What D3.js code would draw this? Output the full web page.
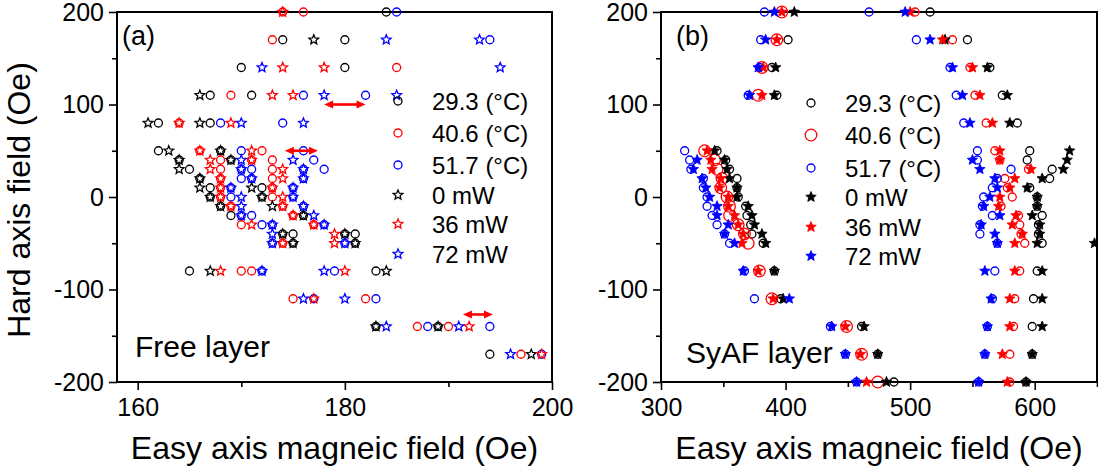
<!DOCTYPE html>
<html><head><meta charset="utf-8">
<script src="https://cdn.jsdelivr.net/npm/d3@7"></script>
<style>
body{margin:0;background:#fff}
svg{display:block}
text{font-family:Arial,"Liberation Sans",sans-serif;fill:#000}
</style>
</head><body>
<svg id="c" width="1098" height="473"></svg>
<script>
// ---------- data: [easy axis field (Oe), hard axis field (Oe)] ----------
// Panel (a) Free layer
const freeT293 = [[184,200],[174,170],[180,170],[170,140],[180,140],[167,110],[171,110],[162,80],[167,80],[162,50],[168,50],[164,40],[169,40],[165,30],[166,20],[167,10],[172,10],[167,0],[172,0],[168,-10],[169,-20],[176,-20],[174,-40],[175,-40],[180,-40],[181,-40],[175,-50],[181,-50],[165,-80],[183,-80],[183,-140],[189,-140],[194,-170]];
const freeT406 = [[174,200],[176,200],[173,170],[185,140],[169,110],[164,80],[166,50],[172,50],[168,40],[171,40],[173,40],[168,30],[173,30],[168,20],[173,20],[168,10],[173,10],[168,0],[173,0],[169,-10],[174,-10],[175,-20],[170,-30],[177,-30],[174,-50],[170,-80],[171,-80],[175,-110],[182,-110],[187,-140],[190,-140],[197,-170]];
const freeT517 = [[185,200],[194,170],[176,110],[182,110],[168,80],[174,80],[170,50],[176,50],[177,40],[170,30],[171,30],[176,30],[178,30],[170,20],[171,20],[176,20],[169,10],[175,10],[169,0],[175,0],[176,-10],[170,-20],[171,-20],[172,-30],[173,-30],[178,-30],[173,-50],[180,-50],[172,-80],[179,-80],[177,-110],[183,-110],[188,-140],[194,-140],[199,-170]];
const freeP0   = [[177,170],[166,110],[161,80],[166,80],[163,50],[168,50],[164,40],[169,40],[164,30],[166,20],[166,10],[171,10],[167,0],[172,0],[168,-10],[173,-10],[176,-20],[174,-40],[180,-40],[175,-50],[181,-50],[167,-80],[184,-80],[183,-140],[189,-140],[198,-170]];
const freeP36  = [[174,200],[174,140],[178,140],[173,110],[175,110],[164,80],[169,80],[166,50],[171,50],[167,40],[171,40],[167,30],[174,30],[168,20],[174,20],[168,10],[173,10],[168,0],[174,0],[169,-10],[174,-10],[175,-20],[171,-30],[177,-30],[179,-40],[174,-50],[179,-50],[168,-80],[180,-80],[177,-110],[192,-140],[199,-170]];
const freeP72  = [[184,170],[193,170],[172,140],[195,140],[178,110],[185,110],[170,80],[176,80],[170,40],[175,40],[170,30],[176,30],[171,20],[176,20],[169,10],[175,10],[170,0],[175,0],[170,-10],[176,-10],[170,-20],[177,-20],[173,-30],[178,-30],[173,-40],[173,-50],[180,-50],[172,-80],[178,-80],[176,-110],[180,-110],[184,-140],[191,-140],[196,-170]];
// Panel (b) SyAF layer
const syafT293 = [[516,200],[402,170],[546,170],[389,140],[564,140],[393,110],[574,110],[586,80],[345,50],[596,50],[352,40],[594,40],[355,30],[614,30],[361,20],[612,20],[361,10],[596,10],[362,0],[602,0],[368,-10],[602,-10],[369,-20],[606,-20],[372,-30],[603,-30],[373,-40],[603,-40],[382,-50],[606,-50],[391,-80],[602,-80],[396,-110],[599,-110],[461,-140],[598,-140],[474,-170],[598,-170],[487,-200],[593,-200]];
const syafT406L = [[397,200],[393,170],[381,140],[378,110],[335,50],[343,40],[345,30],[349,20],[348,10],[353,0],[355,-10],[355,-20],[362,-30],[367,-40],[370,-50],[379,-80],[389,-110],[449,-140],[461,-170],[474,-200]];
const syafT406R = [[504,200],[534,170],[548,140],[552,110],[561,80],[568,50],[572,40],[595,30],[576,20],[578,10],[582,0],[573,-10],[587,-20],[588,-30],[589,-40],[592,-50],[588,-80],[584,-110],[583,-140],[580,-170],[580,-200]];
const syafT517 = [[383,200],[467,200],[380,170],[505,170],[379,140],[532,140],[370,110],[537,110],[543,80],[319,50],[554,50],[323,40],[554,40],[324,30],[581,30],[334,20],[570,20],[334,10],[566,10],[337,0],[559,0],[337,-10],[558,-10],[341,-20],[566,-20],[345,-30],[556,-30],[351,-40],[556,-40],[355,-50],[570,-50],[367,-80],[568,-80],[375,-110],[566,-110],[436,-140],[562,-140],[448,-170],[560,-170],[457,-200],[555,-200]];
const syafP0   = [[407,200],[528,170],[392,140],[562,140],[391,110],[578,110],[580,80],[343,50],[628,50],[351,40],[626,40],[353,30],[623,30],[355,20],[606,20],[361,10],[594,10],[361,0],[602,0],[370,-10],[602,-10],[373,-20],[598,-20],[375,-30],[604,-30],[381,-40],[604,-40],[384,-50],[602,-50],[648,-50],[391,-80],[606,-80],[398,-110],[606,-110],[463,-140],[606,-140],[474,-170],[598,-170],[481,-200],[593,-200]];
const syafP36  = [[397,200],[500,200],[393,170],[526,170],[382,140],[550,140],[381,110],[556,110],[566,80],[337,50],[572,50],[340,40],[572,40],[341,30],[597,30],[348,20],[584,20],[347,10],[580,10],[354,0],[572,0],[354,-10],[571,-10],[359,-20],[585,-20],[362,-30],[582,-30],[366,-40],[590,-40],[365,-50],[584,-50],[378,-80],[584,-80],[390,-110],[580,-110],[448,-140],[580,-140],[460,-170],[574,-170],[465,-200],[578,-200]];
const syafP72  = [[391,200],[496,200],[384,170],[516,170],[378,140],[534,140],[371,110],[542,110],[548,80],[329,40],[550,40],[326,30],[556,30],[333,20],[568,20],[336,10],[570,10],[339,0],[564,0],[345,-10],[559,-10],[345,-20],[572,-20],[354,-30],[557,-30],[351,-40],[568,-40],[359,-50],[570,-50],[366,-80],[560,-80],[403,-110],[565,-110],[437,-140],[562,-140],[448,-170],[560,-170],[457,-200],[555,-200]];
// annotation arrows in (a): [x1, x2, y]
const freeArrows = [[178,182,100],[174.2,177.4,50],[191.4,194.3,-127]];

const legendLabels = ["29.3 (\u00B0C)","40.6 (\u00B0C)","51.7 (\u00B0C)","0 mW","36 mW","72 mW"];
const yMajor = [-200,-100,0,100,200], yMinor = [-150,-50,50,150];
const xMajorA = [160,180,200], xMinorA = [170,190];
const xMajorB = [300,400,500,600], xMinorB = [350,450,550,650];

// ---------- drawing ----------
const svg = d3.select("#c");
const COL = {k:"#000000", r:"#ff0000", b:"#0000ff"};
const y = d3.scaleLinear().domain([-200,200]).range([382,12]);

function starPath(R){
  const r = R*0.45; let p=[];
  for(let i=0;i<10;i++){
    const a = -Math.PI/2 + i*Math.PI/5, rr = i%2?r:R;
    p.push([rr*Math.cos(a), rr*Math.sin(a)]);
  }
  return "M"+p.map(d=>d[0].toFixed(2)+","+d[1].toFixed(2)).join("L")+"Z";
}

function axes(x, xMaj, xMin, left, right){
  const g = svg.append("g");
  const xa = g.append("g").attr("transform","translate(0,382)")
    .call(d3.axisBottom(x).tickValues(xMaj).tickSize(8).tickPadding(8).tickFormat(d=>String(d)));
  const xm = g.append("g").attr("transform","translate(0,382)")
    .call(d3.axisBottom(x).tickValues(xMin).tickSize(5).tickFormat(""));
  const ya = g.append("g").attr("transform",`translate(${left},0)`)
    .call(d3.axisLeft(y).tickValues(yMajor).tickSize(8).tickPadding(5).tickFormat(d=>String(d)));
  const ym = g.append("g").attr("transform",`translate(${left},0)`)
    .call(d3.axisLeft(y).tickValues(yMinor).tickSize(5).tickFormat(""));
  [xa,xm,ya,ym].forEach(a=>{
    a.select(".domain").remove();
    a.selectAll("line").attr("stroke","#000").attr("stroke-width",1.6);
    a.selectAll("text").style("font-size","25px").attr("font-family",null);
  });
  g.append("rect").attr("x",left).attr("y",12).attr("width",right-left).attr("height",370)
    .attr("fill","none").attr("stroke","#000").attr("stroke-width",2);
}

function circles(x, data, col, r){
  svg.append("g").selectAll("circle").data(data).join("circle")
    .attr("cx",d=>x(d[0])).attr("cy",d=>y(d[1])).attr("r",r)
    .attr("fill","none").attr("stroke",col).attr("stroke-width",1.3);
}
function stars(x, data, col, R, filled){
  svg.append("g").selectAll("path").data(data).join("path")
    .attr("d",starPath(R)).attr("transform",d=>`translate(${x(d[0])},${y(d[1])})`)
    .attr("fill",filled?col:"none").attr("stroke",col).attr("stroke-width",filled?0.8:1.3)
    .attr("stroke-linejoin","miter");
}

// Panel (a)
const xA = d3.scaleLinear().domain([158,200]).range([117,552]);
axes(xA, xMajorA, xMinorA, 117, 552);
circles(xA, freeT293, COL.k, 4);
circles(xA, freeT406, COL.r, 4);
circles(xA, freeT517, COL.b, 4);
stars(xA, freeP0, COL.k, 5, false);
stars(xA, freeP36, COL.r, 5, false);
stars(xA, freeP72, COL.b, 5, false);

// arrows
const ag = svg.append("g");
freeArrows.forEach(a=>{
  const x1=xA(a[0]), x2=xA(a[1]), yy=y(a[2]);
  ag.append("line").attr("x1",x1+5).attr("x2",x2-5).attr("y1",yy).attr("y2",yy)
    .attr("stroke",COL.r).attr("stroke-width",2.6);
  ag.append("path").attr("d",`M${x1},${yy}L${x1+9},${yy-4}L${x1+9},${yy+4}Z`).attr("fill",COL.r);
  ag.append("path").attr("d",`M${x2},${yy}L${x2-9},${yy-4}L${x2-9},${yy+4}Z`).attr("fill",COL.r);
});

// Panel (b)
const xB = d3.scaleLinear().domain([300,650]).range([661,1097]);
axes(xB, xMajorB, xMinorB, 661, 1097);
circles(xB, syafT293, COL.k, 4);
circles(xB, syafT406L, COL.r, 5.8);
circles(xB, syafT406R, COL.r, 4);
circles(xB, syafT517, COL.b, 4);
stars(xB, syafP0, COL.k, 5.5, true);
stars(xB, syafP36, COL.r, 5.5, true);
stars(xB, syafP72, COL.b, 5.5, true);

// legends
function legend(mx, tx, ys, filled, bigRed){
  const cols=[COL.k,COL.r,COL.b,COL.k,COL.r,COL.b];
  const g=svg.append("g");
  ys.forEach((yy,i)=>{
    if(i<3){
      g.append("circle").attr("cx",mx).attr("cy",yy).attr("r",(bigRed&&i===1)?5.8:4)
        .attr("fill","none").attr("stroke",cols[i]).attr("stroke-width",1.3);
    } else {
      g.append("path").attr("d",starPath(filled?5.5:5)).attr("transform",`translate(${mx},${yy})`)
        .attr("fill",filled?cols[i]:"none").attr("stroke",cols[i]).attr("stroke-width",filled?0.8:1.3);
    }
    g.append("text").attr("x",tx).attr("y",yy+8.5).style("font-size","24px").text(legendLabels[i]);
  });
}
legend(398, 432, [101,133,165,195,224,254], false, false);
legend(811, 845, [103,135,168,197,227,256], true, true);

// panel labels
svg.append("text").attr("x",122).attr("y",45).style("font-size","27px").text("(a)");
svg.append("text").attr("x",676).attr("y",45).style("font-size","27px").text("(b)");
svg.append("text").attr("x",135).attr("y",357).style("font-size","30px").text("Free layer");
svg.append("text").attr("x",686).attr("y",363).style("font-size","30px").text("SyAF layer");

// axis titles
svg.append("text").attr("transform","translate(30,200) rotate(-90)").attr("text-anchor","middle")
  .style("font-size","32px").text("Hard axis field (Oe)");
svg.append("text").attr("x",(117+552)/2).attr("y",459).attr("text-anchor","middle")
  .style("font-size","32px").text("Easy axis magneic field (Oe)");
svg.append("text").attr("x",(661+1097)/2).attr("y",459).attr("text-anchor","middle")
  .style("font-size","32px").text("Easy axis magneic field (Oe)");
</script>
</body></html>
